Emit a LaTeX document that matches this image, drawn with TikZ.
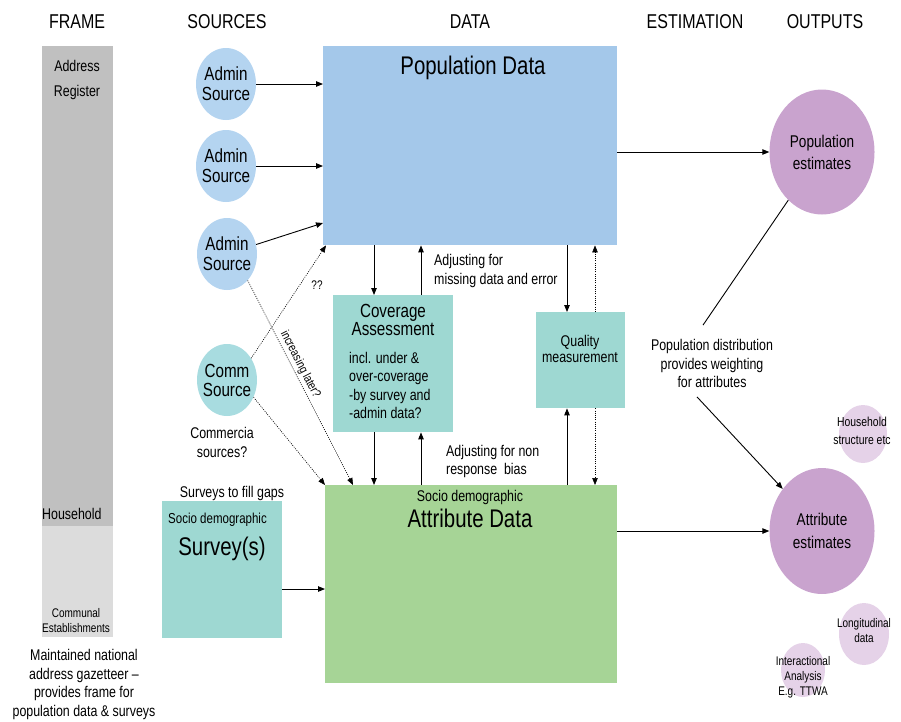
\documentclass[tikz,border=0pt]{standalone}
\usepackage{fontspec}
\setmainfont[FakeStretch=0.8]{Liberation Sans}
\usepackage{tikz}
\usetikzlibrary{arrows.meta,positioning,shapes.geometric}
\definecolor{frame dark}{rgb}{0.753, 0.753, 0.753}
\definecolor{frame light}{rgb}{0.863, 0.863, 0.863}
\definecolor{admin blue}{rgb}{0.706, 0.831, 0.941}
\definecolor{pop blue}{rgb}{0.643, 0.784, 0.918}
\definecolor{comm teal}{rgb}{0.659, 0.863, 0.878}
\definecolor{assess teal}{rgb}{0.620, 0.847, 0.824}
\definecolor{attr green}{rgb}{0.651, 0.831, 0.588}
\definecolor{est purple}{rgb}{0.788, 0.639, 0.808}
\definecolor{extra purple}{rgb}{0.898, 0.824, 0.910}
\tikzset{
	head/.style = {inner sep=0pt, font=\fontsize{20}{24}\selectfont},
	bigtxt/.style = {inner sep=0pt, align=center, font=\fontsize{25.5}{28}\selectfont},
	midtxt/.style = {inner sep=0pt, align=center, font=\fontsize{19}{20}\selectfont},
	esttxt/.style = {inner sep=0pt, align=center, font=\fontsize{17}{22}\selectfont},
	smalltxt/.style = {inner sep=0pt, align=center, font=\fontsize{15.5}{18.5}\selectfont},
	tinytxt/.style = {inner sep=0pt, align=center, font=\fontsize{12.5}{15}\selectfont},
	blob/.style = {ellipse, inner sep=0pt, fill=#1},
	panel/.style = {rectangle, inner sep=0pt, anchor=north west, fill=#1},
	arr/.style = {-{Triangle[length=7pt, width=5.5pt]}, line width=0.9pt},
	dotarr/.style = {arr, line width=0.6pt, dash pattern=on 1pt off 1.2pt}
}
\begin{document}
\begin{tikzpicture}[x=1pt, y=-1pt]
		\useasboundingbox (0, 0) rectangle (901, 721);
		% column heads
		\node[head] (hframe) at (77, 22) {FRAME};
		\node[head] (hsrc) at (227, 22) {SOURCES};
		\node[head] (hdata) at (470, 22) {DATA};
		\node[head] (hest) at (695, 22) {ESTIMATION};
		\node[head] (hout) at (825, 22) {OUTPUTS};
		% frame
		\node[panel=frame dark, minimum width=71pt, minimum height=480pt] (addrbar) at (42, 46) {};
		\node[panel=frame light, minimum width=71pt, minimum height=111pt] (commbar) at (42, 526) {};
		\node[smalltxt] (addr) at (77, 79.5) {Address\\[6.5pt]Register};
		\node[smalltxt, anchor=west] (hhold) at (42, 514) {Household};
		\node[tinytxt] (commest) at (76, 620.5) {Communal\\Establishments};
		\node[smalltxt] (gaz) at (84, 684.5) {Maintained national\\address gazetteer --\\provides frame for\\population data \& surveys};
		% sources
		\node[blob=admin blue, minimum width=60pt, minimum height=72pt] (a1) at (226, 84) {};
		\node[blob=admin blue, minimum width=60pt, minimum height=72pt] (a2) at (226, 166) {};
		\node[blob=admin blue, minimum width=60pt, minimum height=72pt] (a3) at (227, 254) {};
		\node[blob=comm teal, minimum width=60pt, minimum height=72pt] (comm) at (227, 380) {};
		\node[midtxt] (a1txt) at (a1) {Admin\\Source};
		\node[midtxt] (a2txt) at (a2) {Admin\\Source};
		\node[midtxt] (a3txt) at (a3) {Admin\\Source};
		\node[midtxt, font=\fontsize{19}{19}\selectfont] (commtxt) at (comm) {Comm\\Source};
		\node[smalltxt, font=\fontsize{15.5}{19}\selectfont] (commq) at (222, 442.5) {Commercia\\sources?};
		\node[smalltxt] (gaps) at (232, 493) {Surveys to fill gaps};
		\node[panel=assess teal, minimum width=120pt, minimum height=137pt] (surv) at (162, 501) {};
		\node[smalltxt, font=\fontsize{14.4}{17}\selectfont, anchor=west] (survsd) at (168, 520) {Socio demographic};
		\node[bigtxt] (survtxt) at (222, 549) {Survey(s)};
		% data
		\node[panel=pop blue, minimum width=294pt, minimum height=199pt] (pop) at (323, 46) {};
		\node[bigtxt] (poptxt) at (473, 68) {Population Data};
		\node[panel=attr green, minimum width=292pt, minimum height=198pt] (attr) at (325, 485) {};
		\node[smalltxt] (attrsd) at (470, 497) {Socio demographic};
		\node[bigtxt] (attrtxt) at (470, 518) {Attribute Data};
		\node[panel=assess teal, minimum width=120pt, minimum height=137pt] (cov) at (333, 295) {};
		\node[midtxt, font=\fontsize{19}{17.5}\selectfont] (covtxt) at (393, 320) {Coverage\\Assessment};
		\node[smalltxt, align=left, anchor=west, font=\fontsize{15.5}{18.3}\selectfont] (covinc) at (349, 385.5) {incl. under \&\\over-coverage\\-by survey and\\-admin data?};
		\node[panel=assess teal, minimum width=89pt, minimum height=96pt] (qual) at (536, 312) {};
		\node[smalltxt, font=\fontsize{15.5}{16}\selectfont] (qualtxt) at (580, 348.5) {Quality\\measurement};
		\node[smalltxt, align=left, anchor=west, font=\fontsize{15.5}{19}\selectfont] (adjmiss) at (434, 270.5) {Adjusting for\\missing data and error};
		\node[smalltxt, align=left, anchor=west, font=\fontsize{15.5}{18}\selectfont] (adjnon) at (446, 461) {Adjusting for non\\response~ bias};
		% outputs
		\node[blob=est purple, minimum width=105pt, minimum height=125pt] (popest) at (822, 152) {};
		\node[esttxt] (popesttxt) at (popest) {Population\\estimates};
		\node[blob=est purple, minimum width=105pt, minimum height=126pt] (attrest) at (822, 531) {};
		\node[esttxt, font=\fontsize{17}{23}\selectfont] (attresttxt) at (attrest) {Attribute\\estimates};
		\node[blob=extra purple, minimum width=48pt, minimum height=58pt] (hh) at (863, 434) {};
		\node[tinytxt, font=\fontsize{13}{18}\selectfont] (hhtxt) at (862, 431) {Household\\structure etc};
		\node[blob=extra purple, minimum width=50pt, minimum height=62pt] (longi) at (864, 634) {};
		\node[tinytxt] (longitxt) at (864, 630.5) {Longitudinal\\data};
		\node[blob=extra purple, minimum width=44pt, minimum height=54pt] (inter) at (803, 670) {};
		\node[tinytxt] (intertxt) at (803, 677.5) {Interactional\\Analysis\\E.g. TTWA};
		\node[smalltxt] (wt) at (712, 363.5) {Population distribution\\provides weighting\\for attributes};
		% sources into data
		\draw[arr] (a1.east) -- (a1.east -| pop.west);
		\draw[arr] (a2.east) -- (a2.east -| pop.west);
		\draw[arr] (a3.18) -- ([yshift=-177pt]pop.north west);
		\draw[dotarr] (comm.42) -- ([xshift=3pt]pop.south west);
		\node[tinytxt] (qq) at (317, 285) {??};
		\draw[dotarr] (a3.-52) -- node[tinytxt, sloped, pos=0.43, above=2pt] (later) {increasing later?} ([xshift=28pt]attr.north west);
		\draw[dotarr] (comm.-33) -- (attr.north west);
		\draw[arr] (surv.east |- 0, 589) -- (attr.west |- 0, 589);
		% data up and down
		\coordinate (cl) at ([xshift=41pt]cov.north west);
		\coordinate (cr) at ([xshift=88pt]cov.north west);
		\coordinate (ql) at ([xshift=31pt]qual.north west);
		\coordinate (qr) at ([xshift=59pt]qual.north west);
		\draw[arr] (pop.south -| cl) -- (cl);
		\draw[arr] (cr) -- (pop.south -| cr);
		\draw[arr] (cov.south -| cl) -- (attr.north -| cl);
		\draw[arr] (attr.north -| cr) -- (cov.south -| cr);
		\draw[arr] (pop.south -| ql) -- (ql);
		\draw[dotarr] (qr) -- (pop.south -| qr);
		\draw[arr] (attr.north -| ql) -- (qual.south -| ql);
		\draw[dotarr] (qual.south -| qr) -- (attr.north -| qr);
		% data to estimates
		\draw[arr] (pop.east |- popest) -- (popest.west);
		\draw[arr] (attr.east |- attrest) -- (attrest.west);
		\draw[line width=0.9pt] (popest.235) -- ([xshift=-9pt, yshift=14pt]wt.north);
		\draw[arr] ([xshift=-15pt, yshift=-9pt]wt.south) -- (attrest.133);
	\end{tikzpicture}
\end{document}
